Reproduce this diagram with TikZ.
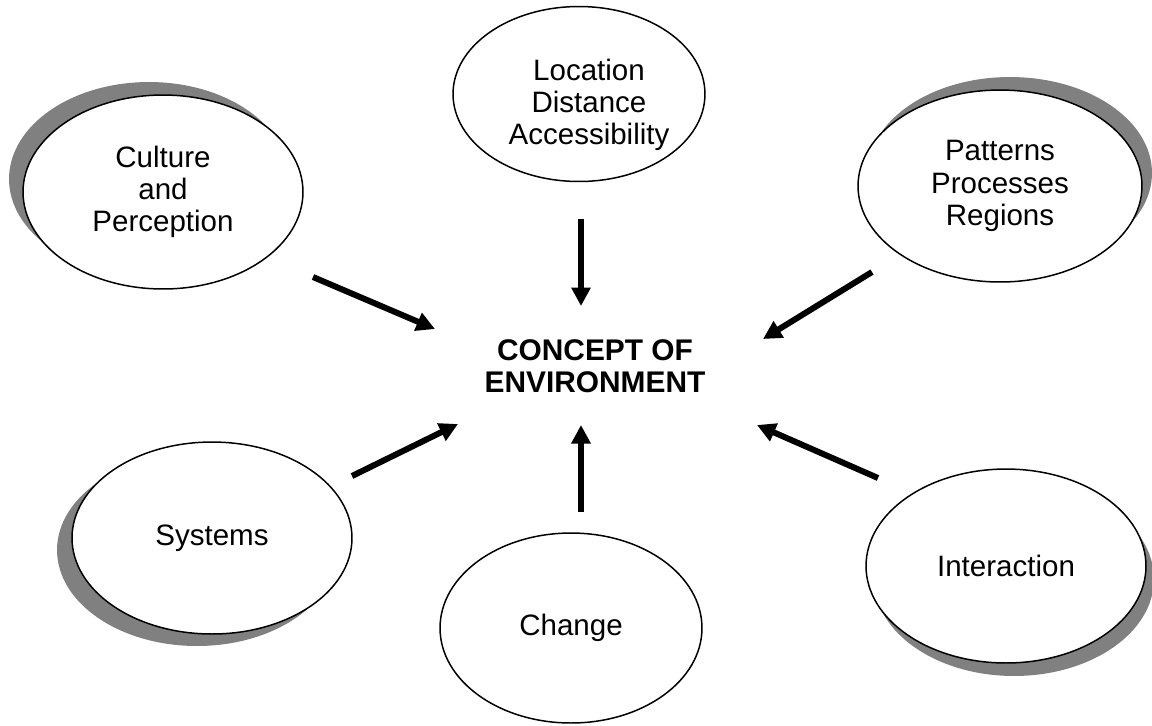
\documentclass[tikz,border=0pt]{standalone}
\usepackage{fontspec}
\setmainfont{Liberation Sans}
\usetikzlibrary{shapes.geometric, shadows, arrows.meta}

\begin{document}
\begin{tikzpicture}[
  x=0.02cm, y=-0.02cm,
  words/.style={align=center, font=\fontsize{16.8}{18.3}\selectfont},
  idea/.style={ellipse, draw, fill=white, line width=0.85pt, inner sep=0pt, words},
  feed/.style={line width=0.12cm, -{Triangle[length=0.37cm, width=0.37cm]}}]

  \useasboundingbox (0,0) rectangle (1152,725);

  % the six ideas round the concept
  \node[idea, minimum width=5.6cm, minimum height=3.88cm,
    drop shadow={shadow xshift=-0.28cm, shadow yshift=0.26cm, fill=black!50, opacity=1}]
    (culture) at (163,192) {Culture\\and\\Perception};
  \node[idea, minimum width=5.04cm, minimum height=3.5cm,
    label={[words, name=location-text, xshift=0.2cm, yshift=-0.22cm]center:Location\\Distance\\Accessibility}]
    (location) at (579,94) {};
  \node[idea, minimum width=5.68cm, minimum height=3.84cm,
    drop shadow={shadow xshift=0.2cm, shadow yshift=0.26cm, fill=black!50, opacity=1}]
    (patterns) at (1000,186) {Patterns\\Processes\\Regions};
  \node[idea, minimum width=5.6cm, minimum height=3.84cm,
    drop shadow={shadow xshift=-0.3cm, shadow yshift=-0.24cm, fill=black!50, opacity=1}]
    (systems) at (212,538) {Systems};
  \node[idea, minimum width=5.24cm, minimum height=3.8cm]
    (change) at (571,628) {Change};
  \node[idea, minimum width=5.6cm, minimum height=3.88cm,
    drop shadow={shadow xshift=0.16cm, shadow yshift=-0.26cm, fill=black!50, opacity=1}]
    (interaction) at (1006,566) {Interaction};

  \node[align=center, font=\fontsize{17}{18.5}\selectfont\bfseries]
    (concept) at (595,366) {CONCEPT OF\\ENVIRONMENT};

  % arrow ends
  \coordinate (culture-out) at (313,277);
  \coordinate (culture-in) at (435,329);
  \coordinate (location-out) at (581,219);
  \coordinate (location-in) at (581,306);
  \coordinate (patterns-out) at (872,272);
  \coordinate (patterns-in) at (763,339);
  \coordinate (systems-out) at (352,476);
  \coordinate (systems-in) at (458,424);
  \coordinate (change-out) at (581,512);
  \coordinate (change-in) at (581,425);
  \coordinate (interaction-out) at (878,478);
  \coordinate (interaction-in) at (757,425);

  \foreach \n in {culture, location, patterns, systems, change, interaction}
    \draw[feed] (\n-out) -- (\n-in);
\end{tikzpicture}
\end{document}
